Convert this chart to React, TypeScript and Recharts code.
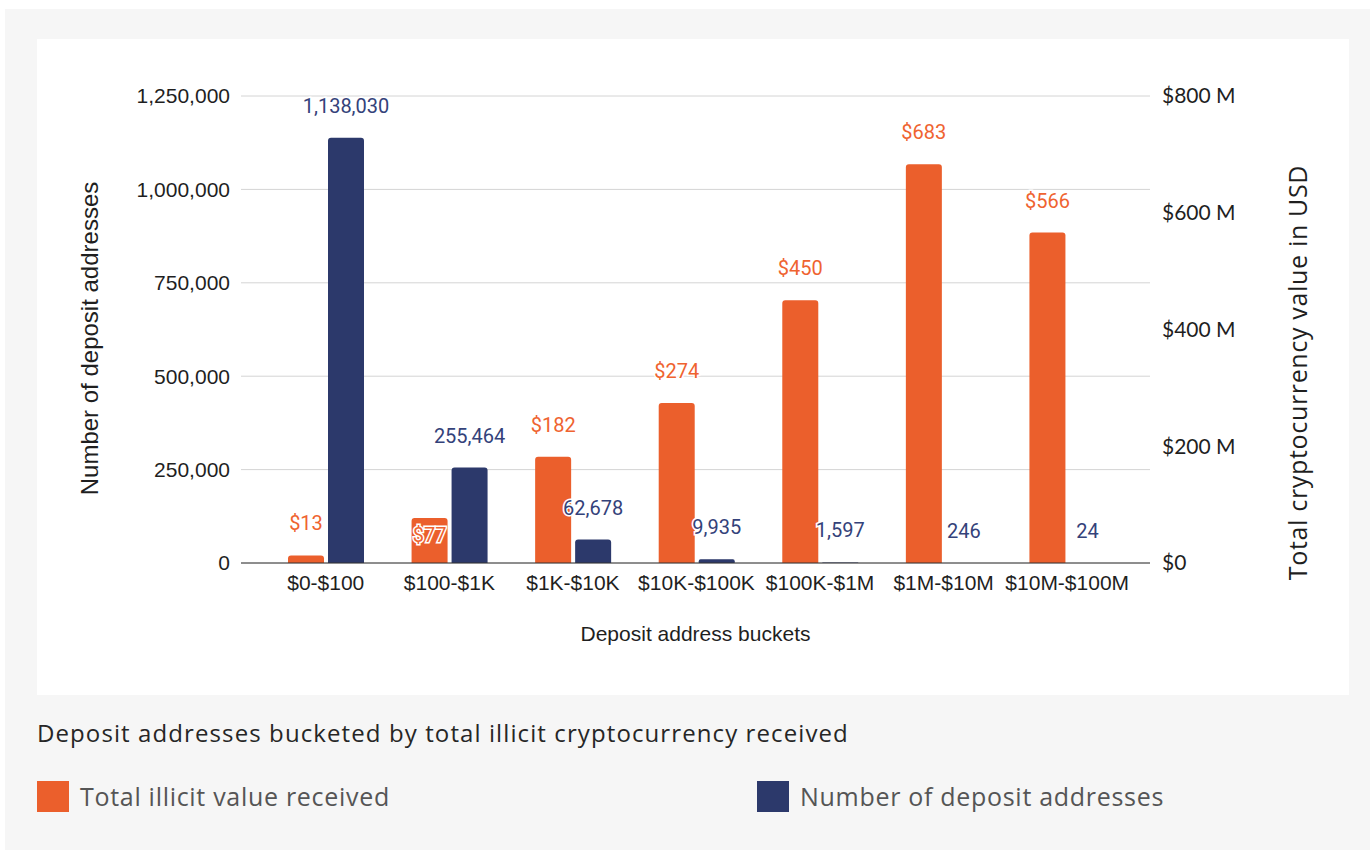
import React from 'react'
import { BarChart, Bar, XAxis, YAxis, CartesianGrid, LabelList, Label } from 'recharts'

// deposit address buckets and the two series
const buckets = ['$0-$100', '$100-$1K', '$1K-$10K', '$10K-$100K', '$100K-$1M', '$1M-$10M', '$10M-$100M']
const illicitValueM = [13, 77, 182, 274, 450, 683, 566]
const addressCounts = [1138030, 255464, 62678, 9935, 1597, 246, 24]
const countTicks = [0, 250000, 500000, 750000, 1000000, 1250000]
const valueTicks = [0, 200, 400, 600, 800]

const valueName = 'Total illicit value received'
const countName = 'Number of deposit addresses'
const caption = 'Deposit addresses bucketed by total illicit cryptocurrency received'

const ORANGE = '#eb5f2c'
const NAVY = '#2c396b'
const ARIAL = '"Liberation Sans", Arial, sans-serif'
const GEO = 'Lato, "Open Sans", sans-serif'
const BODY = '"Open Sans", Lato, sans-serif'

const chartData = buckets.map((bucket, i) => ({
  bucket,
  value: illicitValueM[i],
  count: addressCounts[i],
}))

// annotation above each bar, white halo like the original
const barLabel =
  (color: string, fmt: (v: number) => string, nudge: Record<number, number> = {}) =>
  (props: any) => {
    const { x, y, width, value, index } = props
    const cx = Number(x) + Number(width) / 2
    const cy = Number(y) - 32 + (nudge[index] ?? 0)
    return (
      <text
        x={cx}
        y={cy}
        textAnchor="middle"
        dominantBaseline="central"
        fill={color}
        stroke="#fff"
        strokeWidth={3}
        paintOrder="stroke"
        style={{ fontFamily: 'Roboto, sans-serif', fontSize: 20 }}
      >
        {fmt(Number(value))}
      </text>
    )
  }

const axisTitle =
  (text: string, dx: number, dy: number, font: string, size: number, spacing = 0) =>
  (props: any) => {
    const vb = props.viewBox || {}
    const cx = vb.x + dx
    const cy = vb.y + vb.height / 2 + dy
    return (
      <text
        transform={`translate(${cx},${cy}) rotate(-90)`}
        textAnchor="middle"
        dominantBaseline="central"
        fill="#1f1f1f"
        style={{ fontFamily: font, fontSize: size, letterSpacing: spacing }}
      >
        {text}
      </text>
    )
  }

export default function App() {
  return (
    <div style={{ position: 'absolute', left: 0, top: 0, width: 1370, height: 850, background: '#fff' }}>
      <div style={{ position: 'absolute', left: 5, top: 9, width: 1365, height: 841, background: '#f6f6f6' }} />
      <div style={{ position: 'absolute', left: 37, top: 39, width: 1312, height: 656, background: '#fff' }}>
        <BarChart
          width={1312}
          height={656}
          data={chartData}
          margin={{ top: 57, right: 0, bottom: 0, left: 0 }}
          barSize={36}
          barGap={4}
        >
          <CartesianGrid yAxisId="left" vertical={false} stroke="#d4d4d4" />
          <XAxis
            dataKey="bucket"
            interval={0}
            height={132}
            padding={{ left: 23, right: 21 }}
            tickLine={false}
            axisLine={{ stroke: '#333' }}
            tickSize={0}
            tickMargin={12}
            tick={{ fill: '#1f1f1f', fontSize: 21, fontFamily: ARIAL }}
          >
            <Label
              value="Deposit address buckets"
              position="insideBottom"
              offset={54}
              style={{ fill: '#1f1f1f', fontSize: 21, fontFamily: ARIAL }}
            />
          </XAxis>
          <YAxis
            yAxisId="left"
            orientation="left"
            width={204}
            domain={[0, 1250000]}
            ticks={countTicks}
            tickFormatter={(v: number) => v.toLocaleString('en-US')}
            axisLine={false}
            tickLine={false}
            tickSize={0}
            tickMargin={11}
            tick={{ fill: '#1f1f1f', fontSize: 21, fontFamily: ARIAL }}
          >
            <Label content={axisTitle('Number of deposit addresses', 52, 9, ARIAL, 24)} />
          </YAxis>
          <YAxis
            yAxisId="right"
            orientation="right"
            width={199}
            domain={[0, 800]}
            ticks={valueTicks}
            tickFormatter={(v: number) => (v === 0 ? '$0' : `$${v} M`)}
            axisLine={false}
            tickLine={false}
            tickSize={0}
            tickMargin={12}
            tick={{ fill: '#1f1f1f', fontSize: 21, fontFamily: GEO }}
          >
            <Label content={axisTitle('Total cryptocurrency value in USD', 147, 43, BODY, 25, 0.67)} />
          </YAxis>
          <Bar
            yAxisId="right"
            dataKey="value"
            name={valueName}
            fill={ORANGE}
            radius={[3, 3, 0, 0]}
            isAnimationActive={false}
          >
            <LabelList dataKey="value" content={barLabel('#ef6330', (v) => `$${v}`, { 1: 49 })} />
          </Bar>
          <Bar
            yAxisId="left"
            dataKey="count"
            name={countName}
            fill={NAVY}
            radius={[3, 3, 0, 0]}
            isAnimationActive={false}
          >
            <LabelList dataKey="count" content={barLabel('#34427a', (v) => v.toLocaleString('en-US'))} />
          </Bar>
        </BarChart>
      </div>
      <div
        style={{
          position: 'absolute',
          left: 37,
          top: 716,
          fontFamily: BODY,
          fontSize: 24,
          letterSpacing: 1.1,
          color: '#262626',
          whiteSpace: 'nowrap',
          lineHeight: '34px',
        }}
      >
        {caption}
      </div>
      {[
        { name: valueName, color: ORANGE, left: 37 },
        { name: countName, color: NAVY, left: 757 },
      ].map((item) => (
        <div
          key={item.name}
          style={{ position: 'absolute', left: item.left, top: 780, height: 32, display: 'flex', alignItems: 'center' }}
        >
          <div style={{ width: 32, height: 31, background: item.color }} />
          <span
            style={{
              marginLeft: 11,
              fontFamily: BODY,
              fontSize: 25,
              letterSpacing: 0.7,
              color: '#555',
              whiteSpace: 'nowrap',
            }}
          >
            {item.name}
          </span>
        </div>
      ))}
    </div>
  )
}
